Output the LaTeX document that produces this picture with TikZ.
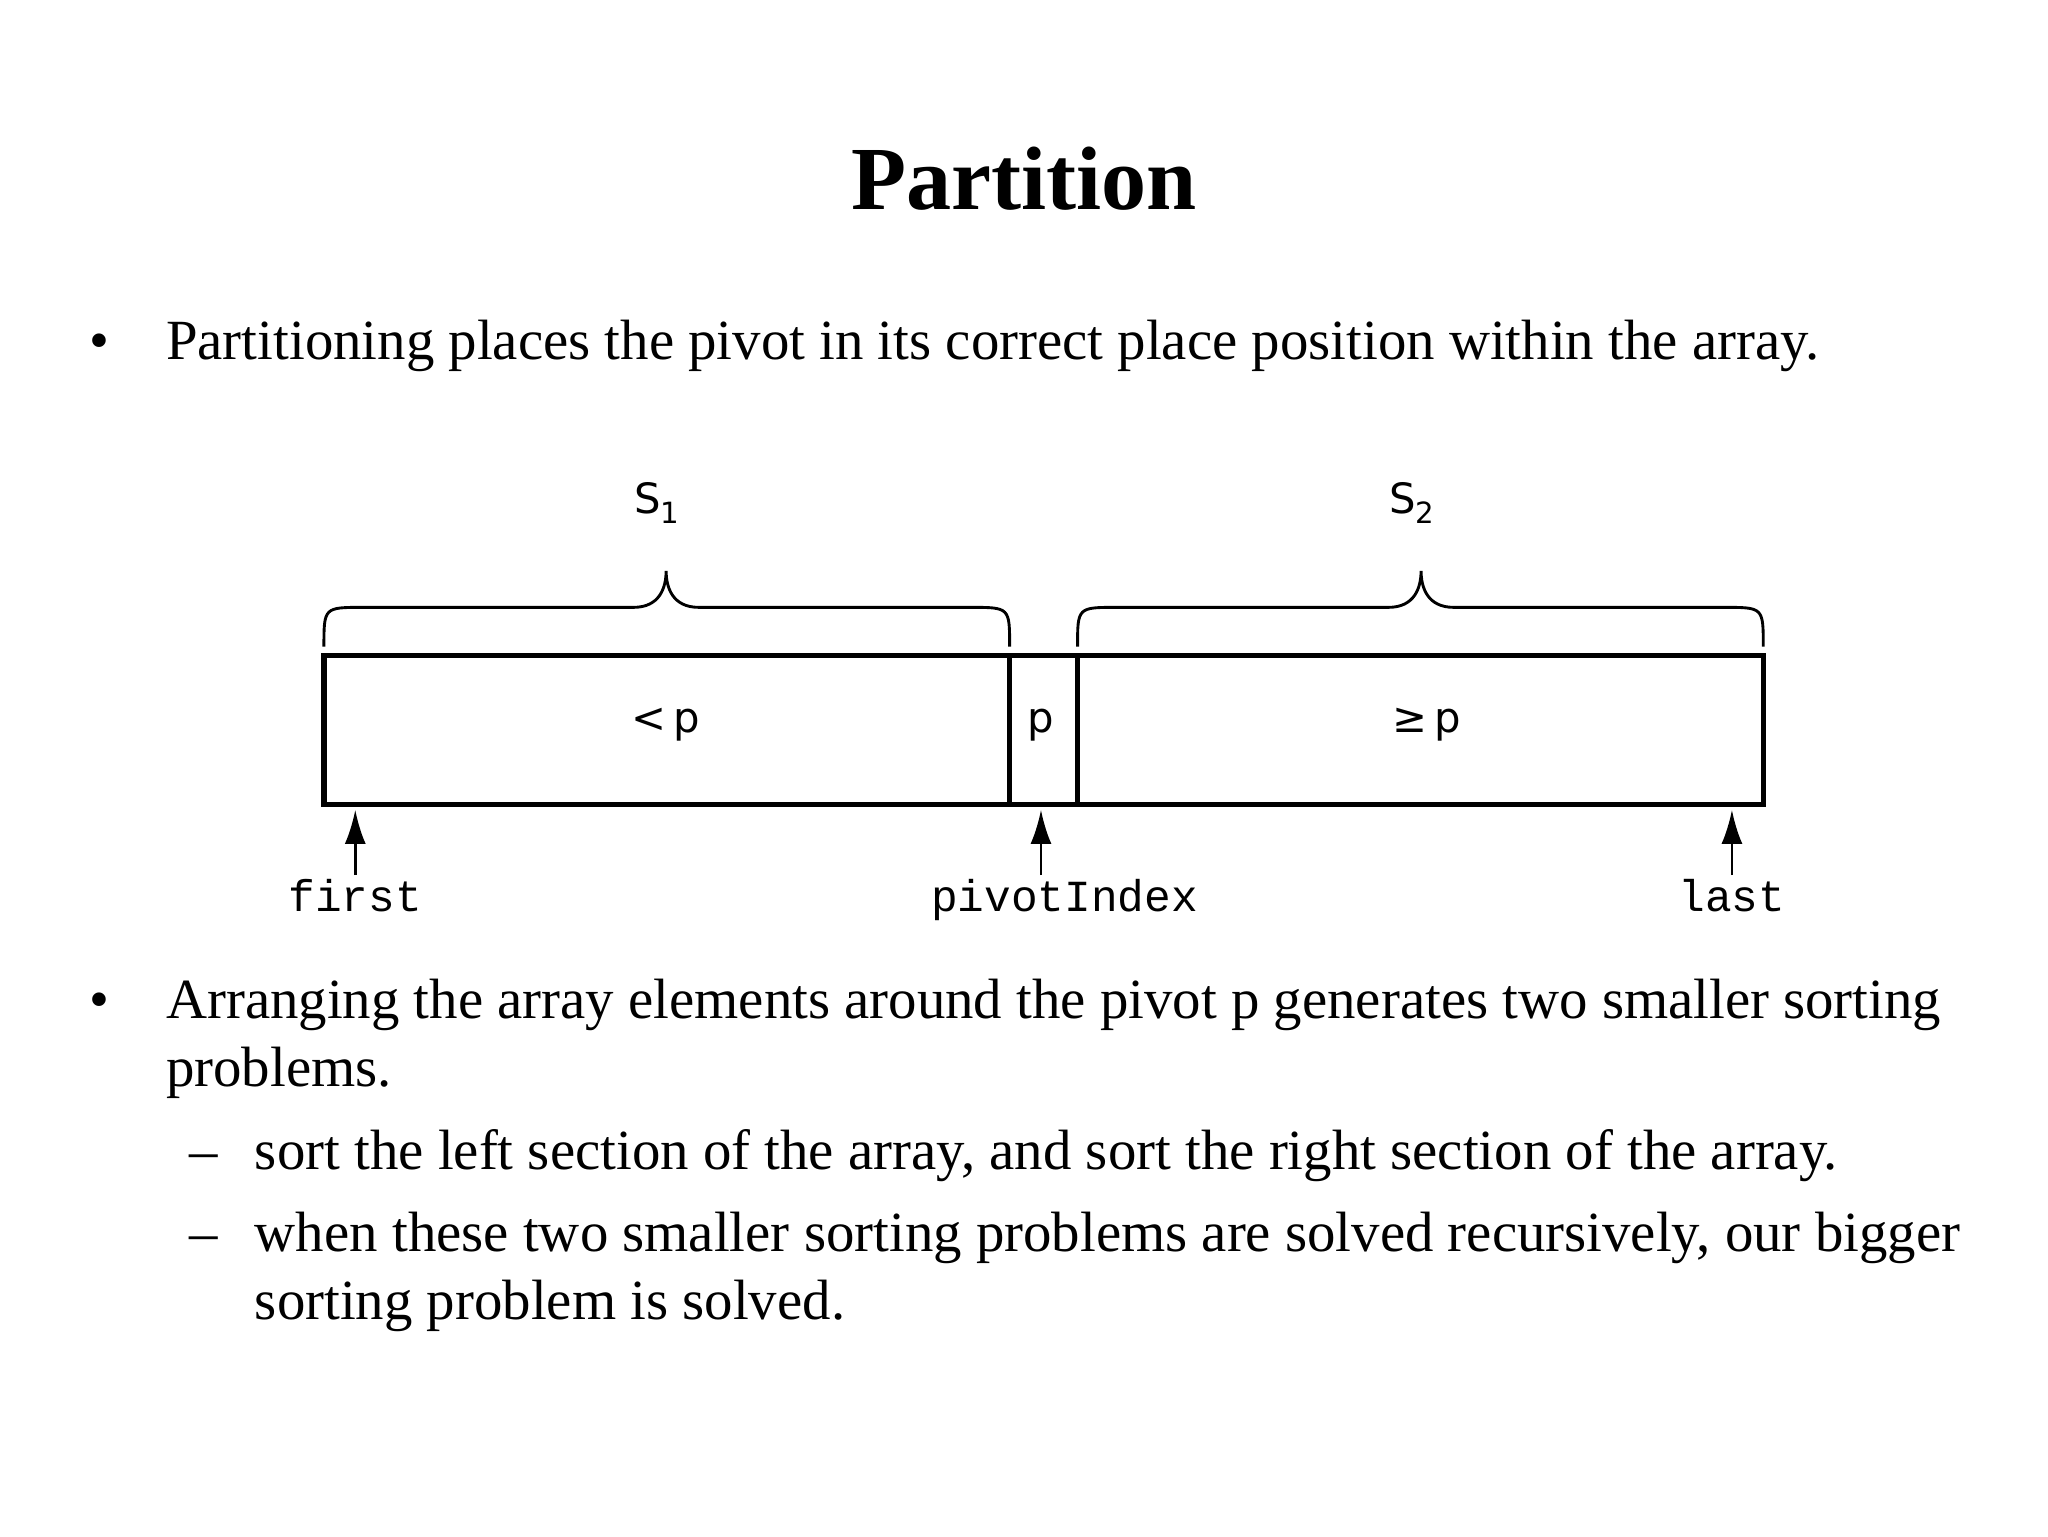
\documentclass[tikz,border=0pt]{standalone}
\usepackage{fontspec}
\setmainfont{Liberation Serif}
\newfontfamily\sansf{DejaVu Sans}
\newfontfamily\monof{Liberation Mono}
\usetikzlibrary{arrows.meta}
\begin{document}
\begin{tikzpicture}[x=1pt,y=1pt,
 body/.style={anchor=base west,inner sep=0,font=\fontsize{43.5}{48}\selectfont},
 lab/.style={font=\sansf\fontsize{32}{40}\selectfont},
 mono/.style={font=\monof\fontsize{34}{40}\selectfont,inner sep=0,anchor=base},
 brace/.style={line width=2.2pt},
 arr/.style={line width=2pt,-{Latex[length=26pt,width=16pt]}}]
\useasboundingbox (0,0) rectangle (1568,-1176);
\node (title) at (784,-137) {\fontsize{69}{72}\selectfont\bfseries Partition};
\node[body] (b1) at (68,-275) {\textbullet};
\node[body] (t1) at (127,-275) {Partitioning places the pivot in its correct place position within the array.};
% box
\draw[line width=4pt] (248,-502) rectangle (1350,-616);
\draw[line width=4pt] (773,-502) -- (773,-616) (825,-502) -- (825,-616);
\node[lab] (lt) at (510,-555) {<\,p};
\node[lab] (pp) at (797,-555) {p};
\node[lab] (ge) at (1092,-555) {≥\,p};
% braces
\draw[brace] (248,-495) .. controls (248,-465) .. (278,-465) -- (485,-465) .. controls (505,-465) and (510,-450) .. (510,-437) .. controls (510,-450) and (515,-465) .. (535,-465) -- (743,-465) .. controls (773,-465) .. (773,-495);
\draw[brace] (825,-495) .. controls (825,-465) .. (855,-465) -- (1063,-465) .. controls (1083,-465) and (1088,-450) .. (1088,-437) .. controls (1088,-450) and (1093,-465) .. (1113,-465) -- (1320,-465) .. controls (1350,-465) .. (1350,-495);
\node[lab] (s1) at (503,-385) {S\textsubscript{1}};
\node[lab] (s2) at (1081,-385) {S\textsubscript{2}};
% arrows
\coordinate (a1) at (272,-620); \coordinate (a2) at (797,-620); \coordinate (a3) at (1326,-620);
\coordinate (c1) at (272,-670); \coordinate (c2) at (797,-670); \coordinate (c3) at (1326,-670);
\node[mono] (first) at (272,-698) {first};
\node[mono] (piv) at (815,-698) {pivotIndex};
\node[mono] (last) at (1326,-698) {last};
\draw[arr] (c1) -- (a1);
\draw[arr] (c2) -- (a2);
\draw[arr] (c3) -- (a3);
% bullet 2
\node[body] (b2) at (68,-780) {\textbullet};
\node[body] (t2) at (127,-780) {Arranging the array elements around the pivot p generates two smaller sorting};
\node[body] (t2b) at (127,-832) {problems.};
\node[body] (d1) at (145,-895) {--};
\node[body] (t3) at (195,-895) {sort the left section of the array, and sort the right section of the array.};
\node[body] (d2) at (145,-958) {--};
\node[body] (t4) at (195,-958) {when these two smaller sorting problems are solved recursively, our bigger};
\node[body] (t4b) at (195,-1010) {sorting problem is solved.};
\end{tikzpicture}
\end{document}
